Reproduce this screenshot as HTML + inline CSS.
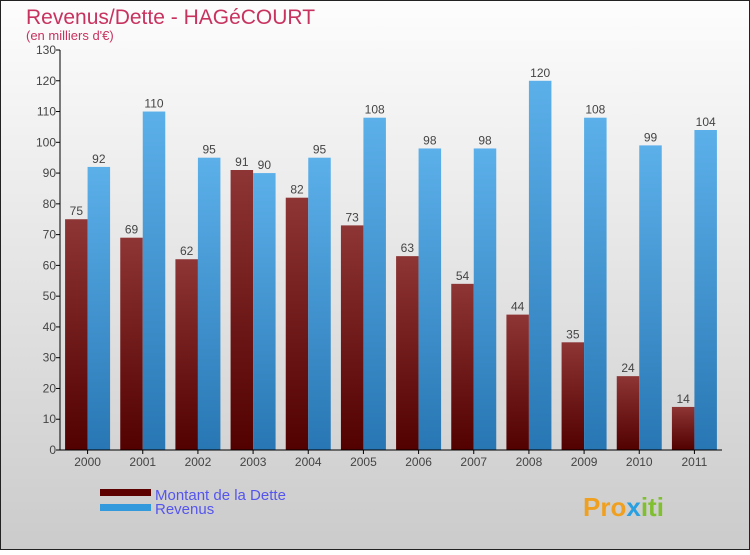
<!DOCTYPE html>
<html><head><meta charset="utf-8"><style>
body{margin:0}
#c{width:750px;height:550px;position:relative;font-family:"Liberation Sans",sans-serif}
</style></head><body>
<div id="c">
<svg id="s" width="750" height="550" xmlns="http://www.w3.org/2000/svg">
<defs>
<linearGradient id="bg" x1="0" y1="0" x2="0" y2="1"><stop offset="0" stop-color="#fdfdfd"/><stop offset="1" stop-color="#cbcbcb"/></linearGradient>
<linearGradient id="gr" x1="0" y1="0" x2="0" y2="1"><stop offset="0" stop-color="#8e3535"/><stop offset="1" stop-color="#520000"/></linearGradient>
<linearGradient id="gb" x1="0" y1="0" x2="0" y2="1"><stop offset="0" stop-color="#5cb0ea"/><stop offset="1" stop-color="#2877b4"/></linearGradient>
</defs>
<rect x="0.5" y="0.5" width="749" height="549" fill="url(#bg)" stroke="#222"/>
<text x="26" y="24" font-size="21" fill="#c8325f">Revenus/Dette - HAGéCOURT</text>
<text x="26" y="40" font-size="13" fill="#c8325f">(en milliers d'€)</text>
<g id="plot"></g>
<rect x="100" y="489" width="51" height="7" fill="#5c0000"/>
<rect x="100" y="504" width="51" height="7" fill="#3399dd"/>
<text x="155" y="500" font-size="15" fill="#5555ee">Montant de la Dette</text>
<text x="155" y="514" font-size="15" fill="#5555ee">Revenus</text>
<text x="583" y="516" font-size="26" font-weight="bold" fill="#f0a020">Pro<tspan fill="#2aa0e0">x</tspan><tspan fill="#80c030">iti</tspan></text>
</svg>
</div>
<script>
const years=["2000","2001","2002","2003","2004","2005","2006","2007","2008","2009","2010","2011"];
const dette=[75,69,62,91,82,73,63,54,44,35,24,14];
const revenus=[92,110,95,90,95,108,98,98,120,108,99,104];
const ticks=[0,10,20,30,40,50,60,70,80,90,100,110,120,130];
const NS="http://www.w3.org/2000/svg";
const g=document.getElementById('plot');
const x0=60,x1=722,y0=450,y1=50,ymax=130;
const y=v=>y0-(v/ymax)*(y0-y1);
const gw=(x1-x0)/years.length;
function mk(t,a){const e=document.createElementNS(NS,t);for(const k in a)e.setAttribute(k,a[k]);g.appendChild(e);return e;}
ticks.forEach(t=>{
 const l=mk('line',{x1:x0-4,x2:x0,y1:y(t),y2:y(t),stroke:'#000'});
 
 
 const tx=mk('text',{x:x0-4,y:y(t)+4,'font-size':12,'text-anchor':'end',fill:'#444'});
 tx.textContent=t;
 
 
});
years.forEach((yr,i)=>{
 const cx=x0+gw*(i+0.5);
 const bw=22.5;
 const r=mk('rect',{x:cx-bw,y:y(dette[i]),width:bw,height:y0-y(dette[i]),fill:'url(#gr)'});
 
 
 const b=mk('rect',{x:cx,y:y(revenus[i]),width:bw,height:y0-y(revenus[i]),fill:'url(#gb)'});
 
 
 const t1=mk('text',{x:cx-bw/2,y:y(dette[i])-4,'font-size':12,'text-anchor':'middle',fill:'#444'});
 t1.textContent=dette[i];
 
 
 const t2=mk('text',{x:cx+bw/2,y:y(revenus[i])-4,'font-size':12,'text-anchor':'middle',fill:'#444'});
 t2.textContent=revenus[i];
 
 
 const xl=mk('text',{x:cx,y:y0+16,'font-size':12,'text-anchor':'middle',fill:'#444'});
 xl.textContent=yr;
 
 
 const xt=mk('line',{x1:cx,x2:cx,y1:y0,y2:y0+4,stroke:'#000'});
 
 
});
const ya=mk('line',{x1:x0,x2:x0,y1:y1,y2:y0,stroke:'#000'});


const xa=mk('line',{x1:x0,x2:x1,y1:y0,y2:y0,stroke:'#000'});


</script>
</body></html>
